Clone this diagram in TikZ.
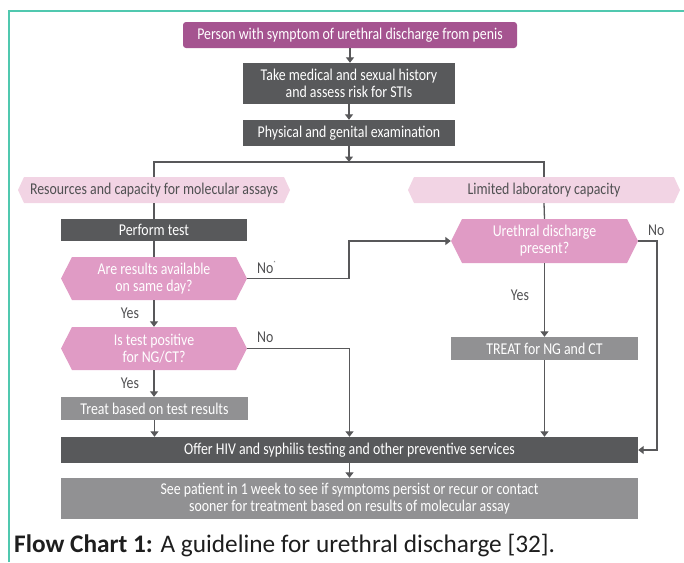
\documentclass[tikz,border=0pt]{standalone}
\usepackage{fontspec}
\setmainfont{Carlito}
\newfontfamily\diagfont[FakeStretch=0.84]{Carlito}
\usetikzlibrary{arrows.meta,calc}
\definecolor{magbox}{RGB}{165,84,144}
\definecolor{darkbox}{RGB}{88,89,91}
\definecolor{midbox}{RGB}{145,145,147}
\definecolor{pinkhex}{RGB}{224,155,197}
\definecolor{lighthex}{RGB}{242,212,228}
\definecolor{framecol}{RGB}{80,200,175}
\definecolor{linecol}{RGB}{88,88,90}
\definecolor{txtdark}{RGB}{80,80,82}
\tikzset{
  box/.style={minimum width=#1, inner sep=0pt, align=center, text=white, font=\diagfont\fontsize{16.5}{17}\selectfont},
  hexnode/.style={minimum width=#1, inner sep=0pt, align=center, font=\diagfont\fontsize{16.5}{17}\selectfont},
  conn/.style={draw=linecol, line width=1.3pt},
  arr/.style={conn, -{Triangle[width=8pt,length=5.5pt]}},
  lbl/.style={text=txtdark, font=\diagfont\fontsize{16.5}{17}\selectfont, inner sep=0pt}
}
% hexagon fill: center x,y ; width ; height ; depth ; colour
\newcommand{\hexfill}[6]{%
  \fill[#6] ({#1-#3/2},#2) -- ({#1-#3/2+#5},{#2-#4/2}) -- ({#1+#3/2-#5},{#2-#4/2})
    -- ({#1+#3/2},#2) -- ({#1+#3/2-#5},{#2+#4/2}) -- ({#1-#3/2+#5},{#2+#4/2}) -- cycle;}
\begin{document}
\begin{tikzpicture}[x=1pt,y=-1pt]
\useasboundingbox (0,0) rectangle (684,562);
% frame
\draw[framecol, line width=2pt] (9,562) -- (9,11) -- (684,11);
% boxes
\node[box=334pt, minimum height=26pt, fill=magbox, rounded corners=3pt] (top) at (350,35) {Person with symptom of urethral discharge from penis};
\node[box=212pt, minimum height=41pt, fill=darkbox] (hist) at (349,83.5) {Take medical and sexual history\\and assess risk for STIs};
\node[box=212pt, minimum height=26pt, fill=darkbox] (exam) at (349,133) {Physical and genital examination};
\coordinate (split) at (349,162);
% light hexes
\hexfill{154}{190}{272}{26}{6}{lighthex}
\node[hexnode=272pt, minimum height=26pt, text=txtdark] (res) at (154,190) {Resources and capacity for molecular assays};
\hexfill{544}{190}{272}{26}{6}{lighthex}
\node[hexnode=272pt, minimum height=26pt, text=txtdark] (lim) at (544,190) {Limited laboratory capacity};
% left column
\node[box=186pt, minimum height=22pt, fill=darkbox] (perform) at (154,230) {Perform test};
\hexfill{154}{278.5}{186}{43}{11}{pinkhex}
\node[hexnode=186pt, minimum height=43pt, text=white] (q1) at (154,278.5) {Are results available\\on same day?};
\hexfill{154}{348.5}{186}{43}{11}{pinkhex}
\node[hexnode=186pt, minimum height=43pt, text=white] (q2) at (154,348.5) {Is test positive\\for NG/CT?};
\node[box=187pt, minimum height=23pt, fill=midbox] (treatres) at (154.5,408.5) {Treat based on test results};
% right column
\hexfill{544.5}{241}{187}{44}{11}{pinkhex}
\node[hexnode=187pt, minimum height=44pt, text=white] (ureth) at (544.5,241) {Urethral discharge\\present?};
\node[box=187pt, minimum height=23pt, fill=midbox] (treatct) at (544.5,348.5) {TREAT for NG and CT};
% bottom
\node[box=577pt, minimum height=26pt, fill=darkbox] (offer) at (349.5,450) {Offer HIV and syphilis testing and other preventive services};
\node[box=577pt, minimum height=41pt, fill=midbox] (see) at (349.5,498.5) {See patient in 1 week to see if symptoms persist or recur or contact\\sooner for treatment based on results of molecular assay};
% connectors
\draw[arr] (top.south) -- (top.south |- hist.north);
\draw[arr] (hist.south) -- (exam.north);
\draw[arr] (exam.south) -- (split);
\draw[conn] (res.north) |- (split) -| (lim.north);
\draw[conn] (res.south) -- (perform.north);
\draw[conn] (perform.south) -- (q1.north);
\draw[arr] (q1.south) -- (q2.north);
\draw[arr] (q2.south) -- (q2.south |- treatres.north);
\draw[arr] (treatres.south) -- (treatres.south |- offer.north);
\coordinate (nobend) at (349,278.5);
\draw[arr] (q1.east) -- (nobend) |- (ureth.west);
\draw[arr] (q2.east) -| (offer.north);
\draw[conn] (lim.south) -- (ureth.north);
\draw[arr] (ureth.south) -- (treatct.north);
\draw[arr] (treatct.south) -- (treatct.south |- offer.north);
\coordinate (rbend) at (657,241);
\draw[arr] (ureth.east) -- (rbend) |- (offer.east);
\draw[arr] (offer.south) -- (see.north);
% labels
\node[lbl, anchor=west] at (257,267) {No\raisebox{1ex}{\fontsize{6}{6}\selectfont *}};
\node[lbl, anchor=west] at (257,337) {No};
\node[lbl] at (130,313) {Yes};
\node[lbl] at (130,383) {Yes};
\node[lbl] at (520,295) {Yes};
\node[lbl, anchor=west] at (648,230) {No};
% caption
\node[anchor=base west, inner sep=0pt, text={rgb,255:red,30;green,30;blue,30}, font=\fontsize{25.3}{27}\selectfont] (cap) at (14,552) {\textbf{Flow Chart 1:} A guideline for urethral discharge [32].};
\end{tikzpicture}
\end{document}
